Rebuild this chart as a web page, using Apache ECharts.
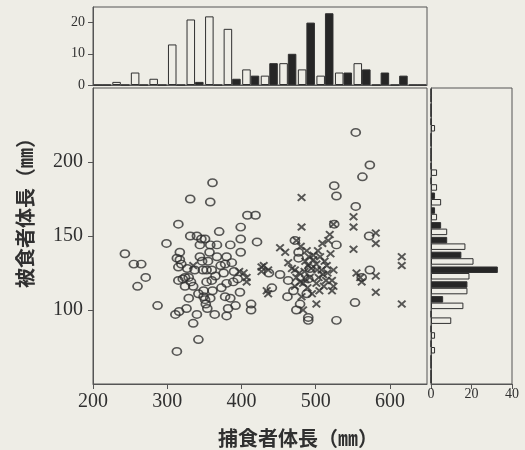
<!DOCTYPE html>
<html>
<head>
<meta charset="utf-8">
<script src="https://cdn.jsdelivr.net/npm/echarts@6/dist/echarts.min.js"></script>
<style>
  html, body { margin: 0; padding: 0; background: #eeede6; }
  #chart { width: 525px; height: 450px; }
</style>
</head>
<body>
<div id="chart"></div>
<script>
// 図から読み取った値 (捕食者体長 x, 被食者体長 y)
const circlePoints = [
  [243, 138], [255, 131], [265, 131], [271, 122], [260, 116],
  [287, 103], [299, 145],
  [315, 158], [317, 139], [317, 134], [313, 135], [315, 129], [315, 120], [321, 121], [324, 116],
  [324, 122], [311, 97], [316, 99], [313, 72], [319, 131],
  [331, 175], [331, 150], [340, 150], [346, 148], [344, 136], [347, 133], [329, 122], [335, 116],
  [329, 108], [342, 111], [349, 109], [326, 101], [340, 97], [335, 91], [342, 80], [344, 144],
  [349, 113], [332, 119], [337, 127], [327, 128], [348, 127],
  [361, 186], [358, 173], [370, 153], [351, 148], [358, 144], [367, 144], [355, 133], [367, 136],
  [353, 127], [360, 127], [353, 119], [360, 120], [351, 107], [358, 108], [354, 101], [364, 97],
  [361, 113], [357, 139], [372, 130], [365, 123], [352, 104], [373, 115],
  [399, 156], [399, 148], [385, 144], [399, 139], [380, 136], [387, 132], [378, 131], [380, 118],
  [389, 119], [378, 109], [385, 108], [382, 101], [380, 96], [398, 112], [390, 126], [395, 121],
  [376, 125], [392, 103],
  [408, 164], [419, 164], [421, 146], [413, 104], [413, 100],
  [437, 125], [441, 115],
  [452, 124], [463, 120], [470, 113], [462, 109], [472, 147], [474, 100],
  [477, 139], [477, 135], [492, 128], [490, 121], [488, 111], [490, 95], [490, 93], [479, 104],
  [525, 184], [525, 158], [528, 177], [528, 144], [528, 93],
  [554, 220], [573, 198], [563, 190], [554, 170], [572, 150], [553, 105], [573, 127], [562, 122]
];

const crossPoints = [
  [335, 130],
  [397, 126], [403, 125], [407, 122], [407, 119],
  [427, 129], [436, 111], [430, 130], [436, 127], [434, 113], [427, 126],
  [452, 142], [459, 139], [474, 147], [472, 127], [474, 122], [472, 116], [463, 132], [468, 128],
  [481, 176], [481, 156], [479, 119], [481, 109], [483, 100], [486, 133], [490, 130], [492, 122],
  [497, 134], [497, 137], [485, 126], [488, 140], [494, 128], [483, 118], [489, 115], [495, 111],
  [480, 143], [491, 136], [486, 121], [478, 125],
  [506, 136], [501, 131], [508, 127], [504, 122], [501, 118], [501, 104], [517, 147], [519, 151],
  [524, 127], [522, 120], [522, 113], [515, 130], [512, 133], [510, 124], [503, 140], [514, 120],
  [520, 138], [505, 113], [509, 145], [502, 127], [516, 125], [511, 116], [524, 116], [524, 158],
  [551, 163], [551, 156], [551, 141], [555, 125], [560, 122], [562, 119],
  [581, 152], [581, 145], [581, 123], [581, 112],
  [616, 136], [616, 130], [616, 104]
];

// 上のヒストグラム (25mm 階級, 200-650)
const topBins = ['200', '225', '250', '275', '300', '325', '350', '375', '400',
  '425', '450', '475', '500', '525', '550', '575', '600', '625'];
const topWhite = [0, 1, 4, 2, 13, 21, 22, 18, 5, 3, 7, 5, 3, 4, 7, 0, 0, 0];
const topBlack = [0, 0, 0, 0, 0, 1, 0, 2, 3, 7, 10, 20, 23, 4, 5, 4, 3, 0];

// 右のヒストグラム (10mm 階級, 50-250)
const sideBins = ['50', '60', '70', '80', '90', '100', '110', '120', '130', '140',
  '150', '160', '170', '180', '190', '200', '210', '220', '230', '240'];
const sideWhite = [0, 0, 2, 2, 10, 16, 18, 19, 21, 17, 8, 3, 5, 3, 3, 0, 0, 2, 0, 0];
const sideBlack = [0, 0, 0, 0, 0, 6, 18, 33, 15, 8, 5, 2, 2, 0, 0, 0, 0, 0, 0, 0];

const bg = '#eeede6';
const ink = '#303030';
const lineColor = '#555555';
const serif = 'Liberation Serif';

const chart = echarts.init(document.getElementById('chart'));

const axisLine = { show: true, lineStyle: { color: lineColor, width: 1 } };
const tick = { show: true, length: 5, lineStyle: { color: lineColor } };

chart.setOption({
  backgroundColor: bg,
  animation: false,
  grid: [
    { left: 93, top: 88, width: 334, height: 296, show: true, borderColor: lineColor, borderWidth: 1 },
    { left: 93, top: 7, width: 334, height: 78, show: true, borderColor: lineColor, borderWidth: 1 },
    { left: 431, top: 88, width: 81, height: 296, show: true, borderColor: lineColor, borderWidth: 1 }
  ],
  xAxis: [
    {
      gridIndex: 0, type: 'value', min: 200, max: 650, interval: 100,
      axisLine: axisLine, axisTick: tick, splitLine: { show: false },
      axisLabel: { fontFamily: serif, fontSize: 20, color: ink, margin: 8, showMaxLabel: false }
    },
    {
      gridIndex: 1, type: 'category', data: topBins,
      axisLine: axisLine, axisTick: { show: false }, axisLabel: { show: false }
    },
    {
      gridIndex: 2, type: 'value', min: 0, max: 40, interval: 20,
      axisLine: axisLine, axisTick: tick, splitLine: { show: false },
      axisLabel: { fontFamily: serif, fontSize: 14, color: ink, margin: 3 }
    }
  ],
  yAxis: [
    {
      gridIndex: 0, type: 'value', min: 50, max: 250, interval: 50,
      axisLine: axisLine, axisTick: tick, splitLine: { show: false },
      axisLabel: { fontFamily: serif, fontSize: 20, color: ink, margin: 10, showMinLabel: false, showMaxLabel: false }
    },
    {
      gridIndex: 1, type: 'value', min: 0, max: 25, interval: 10,
      axisLine: axisLine, axisTick: tick, splitLine: { show: false },
      axisLabel: { fontFamily: serif, fontSize: 14, color: ink, margin: 8, showMaxLabel: false }
    },
    {
      gridIndex: 2, type: 'category', data: sideBins,
      axisLine: axisLine, axisTick: { show: false }, axisLabel: { show: false }
    }
  ],
  series: [
    {
      type: 'scatter', xAxisIndex: 0, yAxisIndex: 0,
      data: circlePoints,
      symbol: 'circle', symbolSize: [9, 7.5],
      itemStyle: { color: 'transparent', borderColor: ink, borderWidth: 1.6 }
    },
    {
      type: 'scatter', xAxisIndex: 0, yAxisIndex: 0,
      data: crossPoints,
      symbol: 'path://M0,1.6L1.6,0L5,3.4L8.4,0L10,1.6L6.6,5L10,8.4L8.4,10L5,6.6L1.6,10L0,8.4L3.4,5Z',
      symbolSize: [9, 8],
      itemStyle: { color: ink }
    },
    {
      type: 'bar', xAxisIndex: 1, yAxisIndex: 1, data: topWhite,
      barGap: '0%', barCategoryGap: '8%',
      itemStyle: { color: bg, borderColor: ink, borderWidth: 1 }
    },
    {
      type: 'bar', xAxisIndex: 1, yAxisIndex: 1, data: topBlack,
      barGap: '0%', barCategoryGap: '8%',
      itemStyle: { color: '#262626', borderColor: ink, borderWidth: 1 }
    },
    {
      // 黒が上、白が下
      type: 'bar', xAxisIndex: 2, yAxisIndex: 2, data: sideBlack,
      barGap: '0%', barCategoryGap: '12%',
      itemStyle: { color: '#262626', borderColor: ink, borderWidth: 1 }
    },
    {
      type: 'bar', xAxisIndex: 2, yAxisIndex: 2, data: sideWhite,
      barGap: '0%', barCategoryGap: '12%',
      itemStyle: { color: bg, borderColor: ink, borderWidth: 1 }
    }
  ],
  graphic: [
    {
      type: 'text', left: 218, top: 428,
      style: { text: '捕食者体長（㎜）', font: 'bold 20px "Noto Sans CJK JP"', fill: ink }
    },
    {
      type: 'text', x: 25, y: 208, rotation: Math.PI / 2,
      style: { text: '被食者体長（㎜）', font: 'bold 20px "Noto Sans CJK JP"', fill: ink, align: 'center', verticalAlign: 'middle' }
    }
  ]
});
</script>
</body>
</html>
